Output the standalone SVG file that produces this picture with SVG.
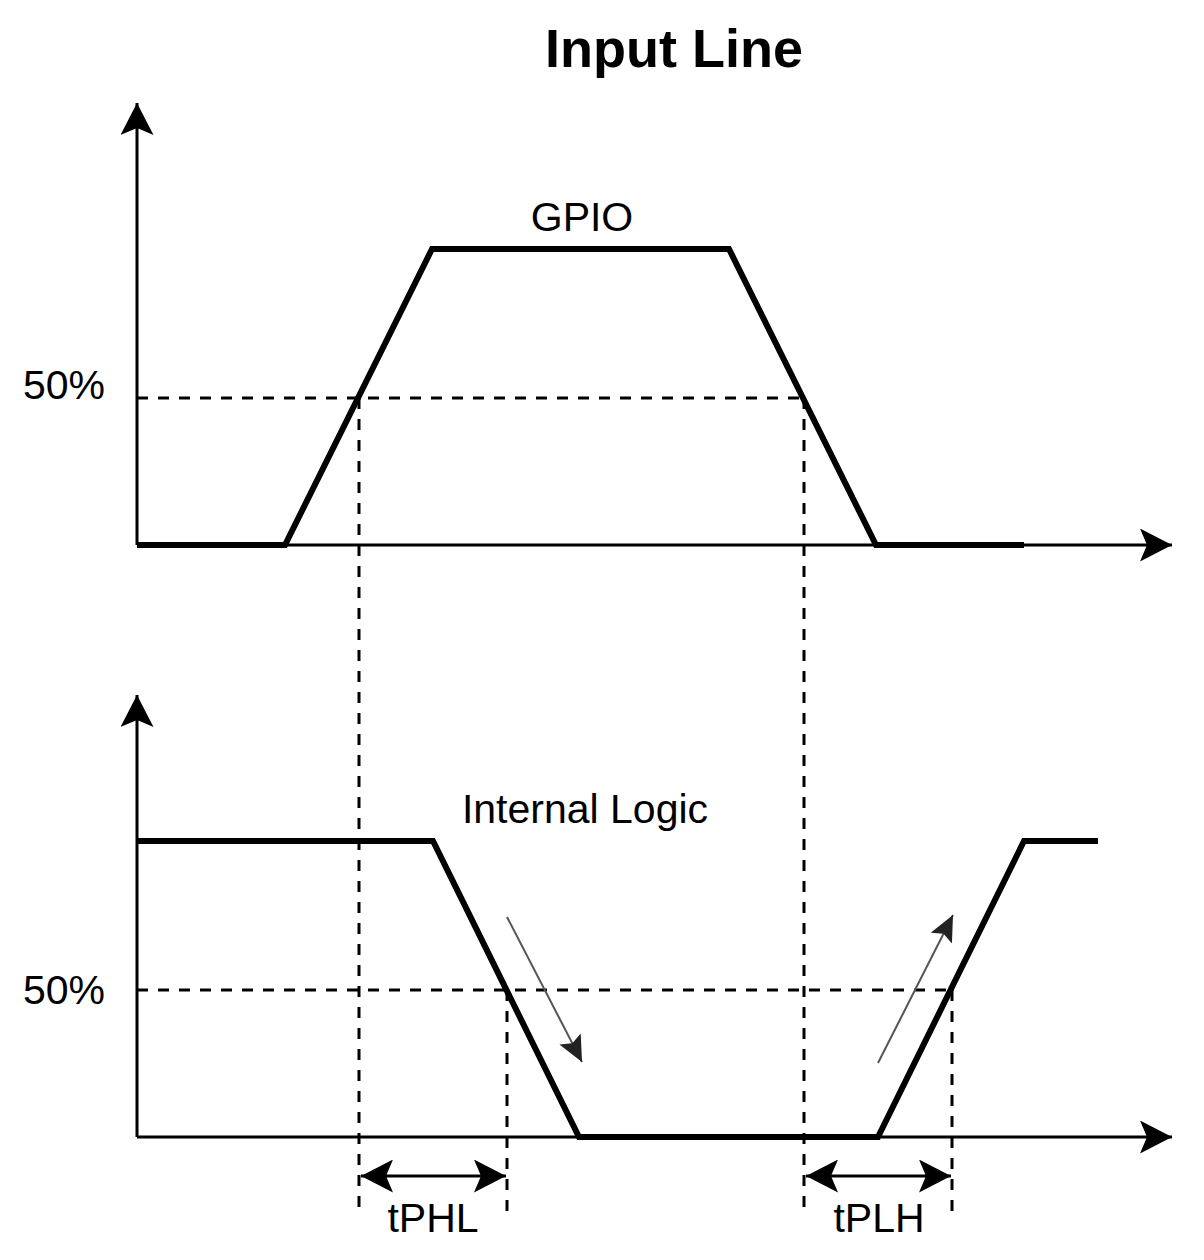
<svg xmlns="http://www.w3.org/2000/svg" width="1204" height="1260" viewBox="0 0 1204 1260">
  <defs>
    <style>
      .axis { stroke: #000; stroke-width: 3; fill: none; }
      .wave { stroke: #000; stroke-width: 6; fill: none; stroke-linejoin: miter; stroke-linecap: butt; }
      .dash { stroke: #000; stroke-width: 3; fill: none; stroke-dasharray: 11 10; }
      .hint { stroke: #555; stroke-width: 2; fill: none; }
      .lbl { font-family: "Liberation Sans", Arial, sans-serif; font-size: 41px; fill: #000; }
      .title { font-family: "Liberation Sans", Arial, sans-serif; font-size: 54px; font-weight: bold; fill: #000; }
    </style>
    <marker id="bigArrow" markerUnits="userSpaceOnUse" markerWidth="34" markerHeight="34" refX="32" refY="16.5" orient="auto">
      <path d="M0,0 L32,16.5 L0,33 L7,16.5 Z" fill="#000"/>
    </marker>
    <marker id="bigArrowStart" markerUnits="userSpaceOnUse" markerWidth="34" markerHeight="34" refX="0" refY="16.5" orient="auto">
      <path d="M32,0 L0,16.5 L32,33 L25,16.5 Z" fill="#000"/>
    </marker>
    <marker id="smallArrow" markerUnits="userSpaceOnUse" markerWidth="28" markerHeight="26" refX="26" refY="12" orient="auto">
      <path d="M0,0 L26,12 L0,24 L5,12 Z" fill="#222"/>
    </marker>
  </defs>

  <g id="title">
    <text class="title" x="674" y="67" text-anchor="middle">Input Line</text>
  </g>

  <g id="gpio-axes">
    <line class="axis" x1="137" y1="545" x2="137" y2="103" marker-end="url(#bigArrow)"/>
    <line class="axis" x1="137" y1="545" x2="1172" y2="545" marker-end="url(#bigArrow)"/>
  </g>

  <g id="gpio-wave">
    <polyline class="wave" points="137,545 285,545 432,249 729,249 876,545 1024,545"/>
    <text class="lbl" x="582" y="231" text-anchor="middle">GPIO</text>
    <text class="lbl" x="23" y="399">50%</text>
  </g>

  <g id="logic-axes">
    <line class="axis" x1="137" y1="1137" x2="137" y2="695" marker-end="url(#bigArrow)"/>
    <line class="axis" x1="137" y1="1137" x2="1172" y2="1137" marker-end="url(#bigArrow)"/>
  </g>

  <g id="logic-wave">
    <polyline class="wave" points="137,841 433,841 579,1137 878,1137 1024,841 1098,841"/>
    <text class="lbl" x="585" y="823" text-anchor="middle">Internal Logic</text>
    <text class="lbl" x="23" y="1004">50%</text>
  </g>

  <g id="connectors">
    <line class="dash" x1="137" y1="398" x2="804" y2="398"/>
    <line class="dash" x1="137" y1="990" x2="952" y2="990"/>
    <line class="dash" x1="359" y1="398" x2="359" y2="1213"/>
    <line class="dash" x1="804" y1="398" x2="804" y2="1213"/>
    <line class="dash" x1="507" y1="990" x2="507" y2="1213"/>
    <line class="dash" x1="952" y1="990" x2="952" y2="1213"/>
    <line class="axis" x1="361" y1="1176" x2="506" y2="1176" marker-start="url(#bigArrowStart)" marker-end="url(#bigArrow)"/>
    <line class="axis" x1="806" y1="1176" x2="951" y2="1176" marker-start="url(#bigArrowStart)" marker-end="url(#bigArrow)"/>
    <line class="hint" x1="507" y1="917" x2="582" y2="1062" marker-end="url(#smallArrow)"/>
    <line class="hint" x1="878" y1="1063" x2="953" y2="915" marker-end="url(#smallArrow)"/>
  </g>

  <g id="delay-labels">
    <text class="lbl" x="433" y="1232" text-anchor="middle">tPHL</text>
    <text class="lbl" x="879" y="1232" text-anchor="middle">tPLH</text>
  </g>
</svg>
